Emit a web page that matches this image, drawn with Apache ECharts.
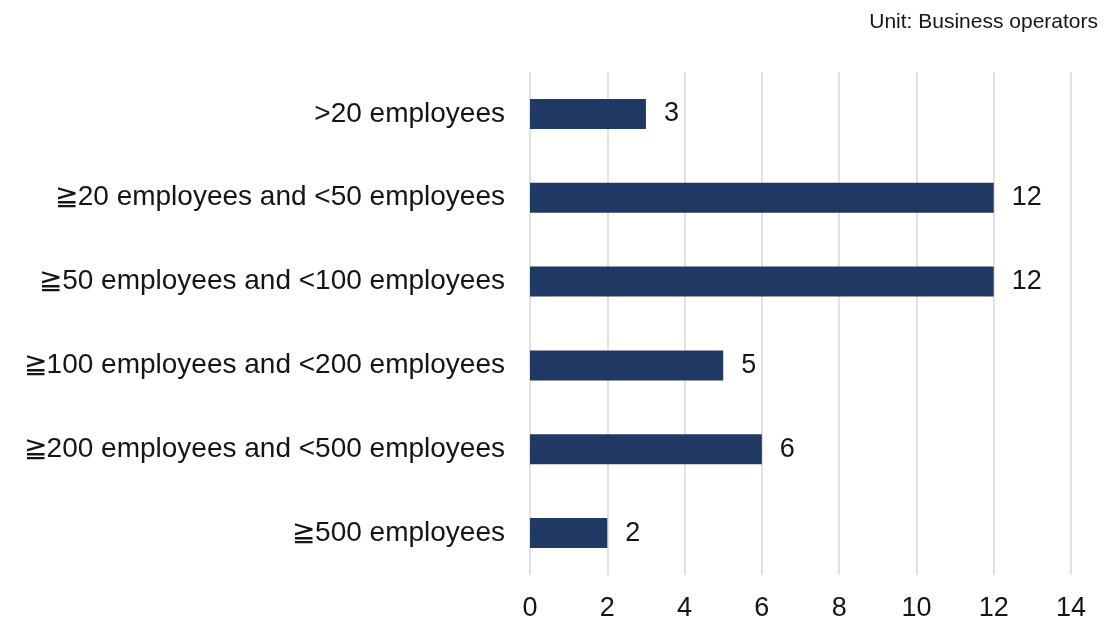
<!DOCTYPE html>
<html>
<head>
<meta charset="utf-8">
<script src="https://cdn.jsdelivr.net/npm/echarts@6/dist/echarts.min.js"></script>
<style>
  html, body { margin: 0; padding: 0; background: #ffffff; }
  #chart { width: 1119px; height: 626px; }
</style>
</head>
<body>
<div id="chart"></div>
<script>
// Business operators by company size
const categories = [
  '>20 employees',
  '≧20 employees and <50 employees',
  '≧50 employees and <100 employees',
  '≧100 employees and <200 employees',
  '≧200 employees and <500 employees',
  '≧500 employees'
];
const operators = [3, 12, 12, 5, 6, 2];
const unitLabel = 'Unit: Business operators';

const font = '"Liberation Sans", Arial, Helvetica, sans-serif';
const ink = '#151515';
const chart = echarts.init(document.getElementById('chart'));

chart.setOption({
  animation: false,
  textStyle: { fontFamily: font },
  title: {
    text: unitLabel,
    right: 16,
    top: 7,
    textStyle: { fontSize: 21, fontWeight: 'normal', color: ink, fontFamily: font }
  },
  grid: { left: 530, right: 48, top: 72, bottom: 51, containLabel: false },
  xAxis: {
    type: 'value',
    min: 0,
    max: 14,
    interval: 2,
    axisLine: { show: false },
    axisTick: { show: false },
    axisLabel: { fontSize: 27, color: ink, margin: 20, fontFamily: font },
    splitLine: { show: true, lineStyle: { color: '#d9d9d9', width: 1.5 } }
  },
  yAxis: {
    type: 'category',
    data: categories,
    inverse: true,
    axisLine: { show: false },
    axisTick: { show: false },
    axisLabel: { fontSize: 28, color: ink, margin: 25, fontFamily: font }
  },
  series: [{
    type: 'bar',
    data: operators,
    barWidth: 30,
    itemStyle: { color: '#1f3864' },
    label: {
      show: true,
      position: 'right',
      distance: 18,
      fontSize: 27,
      color: ink,
      fontFamily: font
    }
  }]
});
</script>
</body>
</html>
